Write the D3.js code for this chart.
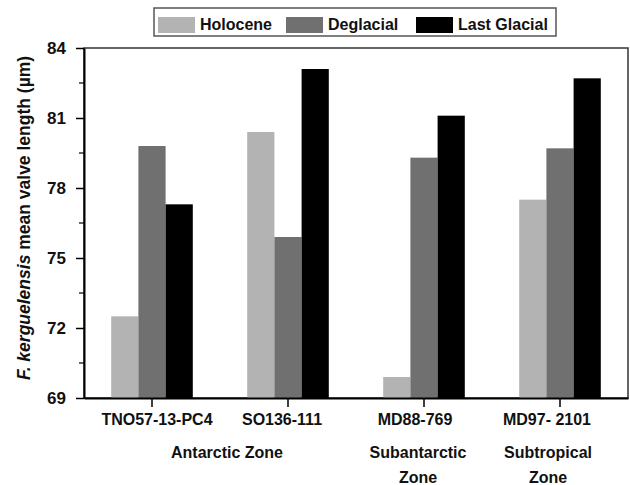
<!DOCTYPE html>
<html>
<head>
<meta charset="utf-8">
<script src="https://cdn.jsdelivr.net/npm/d3@7"></script>
<style>
  body { margin: 0; background: #fff; }
  text { font-family: "Liberation Sans", Arial, sans-serif; font-weight: bold; }
</style>
</head>
<body>
<svg id="chart" width="630" height="485"></svg>
<script>
// data
const cores = ["TNO57-13-PC4", "SO136-111", "MD88-769", "MD97- 2101"];
const series = ["Holocene", "Deglacial", "Last Glacial"];
const holocene = [72.5, 80.4, 69.9, 77.5];
const deglacial = [79.8, 75.9, 79.3, 79.7];
const lastGlacial = [77.3, 83.1, 81.1, 82.7];
const yTicks = [69, 72, 75, 78, 81, 84];
const zones = [
  {text: ["Antarctic Zone"], from: 0, to: 1},
  {text: ["Subantarctic", "Zone"], from: 2, to: 2},
  {text: ["Subtropical", "Zone"], from: 3, to: 3}
];
const colors = ["#b3b3b3", "#707070", "#000000"];

const svg = d3.select("#chart");
const m = {left: 84, right: 628, top: 48, bottom: 398};

const x = d3.scaleBand().domain(cores).range([m.left, m.right])
  .paddingInner(0.4).paddingOuter(0.2);
const xc = d3.scaleBand().domain(cores).range([m.left, m.right]);
const xs = d3.scaleBand().domain(series).range([0, x.bandwidth()]);
const y = d3.scaleLinear().domain([69, 84]).range([m.bottom, m.top]);

const values = [holocene, deglacial, lastGlacial];
const rows = [];
series.forEach((s, si) => cores.forEach((c, ci) => rows.push({s, c, v: values[si][ci], col: colors[si]})));

// frame
svg.append("rect")
  .attr("x", m.left).attr("y", m.top)
  .attr("width", m.right - m.left).attr("height", m.bottom - m.top)
  .attr("fill", "none").attr("stroke", "#333").attr("stroke-width", 1.5);

// bars
svg.append("g").selectAll("rect")
  .data(rows)
  .enter().append("rect")
  .attr("x", d => x(d.c) + xs(d.s))
  .attr("y", d => y(d.v))
  .attr("width", xs.bandwidth())
  .attr("height", d => y(69) - y(d.v))
  .attr("fill", d => d.col);

// y axis
const yAxis = svg.append("g")
  .attr("transform", `translate(${m.left},0)`)
  .call(d3.axisLeft(y).tickValues(yTicks).tickSize(8).tickPadding(10).tickSizeOuter(0));
yAxis.select(".domain").attr("stroke", "#000").attr("stroke-width", 2);
yAxis.selectAll(".tick line").attr("stroke", "#000").attr("stroke-width", 1.5);
yAxis.selectAll("text").attr("font-size", 17).attr("fill", "#111");

// minor ticks
svg.append("g").selectAll("line")
  .data(yTicks.slice(0, -1).map(t => t + 1.5))
  .enter().append("line")
  .attr("x1", m.left - 5).attr("x2", m.left)
  .attr("y1", d => y(d)).attr("y2", d => y(d))
  .attr("stroke", "#000").attr("stroke-width", 1.2);

// x axis
const xAxis = svg.append("g")
  .attr("transform", `translate(0,${m.bottom})`)
  .call(d3.axisBottom(xc).tickSize(9).tickSizeOuter(0).tickFormat(""));
xAxis.select(".domain").attr("stroke", "#000").attr("stroke-width", 2);
xAxis.selectAll(".tick line").attr("stroke", "#000").attr("stroke-width", 1.5);

// core labels (hand placed in the original, nudged off the ticks)
const nudge = [5, -6, -9, -13];
svg.append("g").selectAll("text")
  .data(cores)
  .enter().append("text")
  .attr("x", (d, i) => xc(d) + xc.bandwidth() / 2 + nudge[i])
  .attr("y", 425)
  .attr("text-anchor", "middle")
  .attr("font-size", 16)
  .attr("fill", "#111")
  .text(d => d);

// zone labels
const zoneNudge = [7, -6, -12];
zones.forEach((z, i) => {
  const cx = (xc(cores[z.from]) + xc(cores[z.to]) + xc.bandwidth()) / 2 + zoneNudge[i];
  z.text.forEach((t, j) => {
    svg.append("text")
      .attr("x", cx).attr("y", 458 + j * 25)
      .attr("text-anchor", "middle")
      .attr("font-size", 16)
      .attr("fill", "#111")
      .text(t);
  });
});

// y title
const yt = svg.append("text")
  .attr("transform", `translate(30,${(m.top + m.bottom) / 2 - 5}) rotate(-90)`)
  .attr("text-anchor", "middle")
  .attr("font-size", 17.5)
  .attr("fill", "#111");
yt.append("tspan").attr("font-style", "italic").text("F. kerguelensis");
yt.append("tspan").text(" mean valve length (\u00b5m)");

// legend
const legend = svg.append("g");
legend.append("rect")
  .attr("x", 154).attr("y", 8).attr("width", 402).attr("height", 28)
  .attr("fill", "#fff").attr("stroke", "#555").attr("stroke-width", 1.5);
const legX = [158, 286, 416];
series.forEach((s, i) => {
  legend.append("rect")
    .attr("x", legX[i]).attr("y", 17).attr("width", 37).attr("height", 16)
    .attr("fill", colors[i]);
  legend.append("text")
    .attr("x", legX[i] + 42).attr("y", 30)
    .attr("font-size", 16)
    .attr("fill", "#111")
    .text(s);
});
</script>
</body>
</html>
